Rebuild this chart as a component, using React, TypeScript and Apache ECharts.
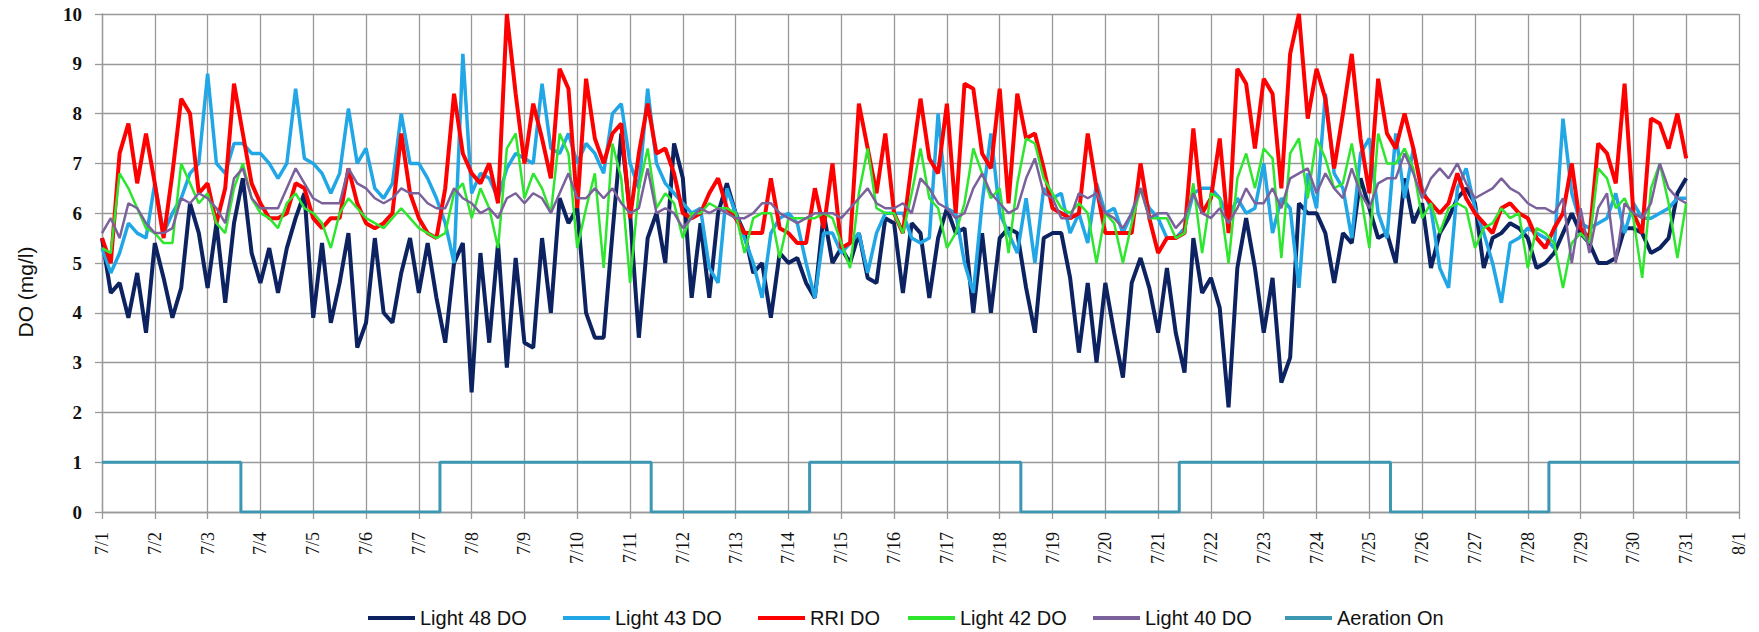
import { useEffect, useRef } from 'react'
import * as echarts from 'echarts'

// x axis: one tick per day, 7/1 .. 8/1
const dateLabels = [
  '7/1', '7/2', '7/3', '7/4', '7/5', '7/6', '7/7', '7/8', '7/9', '7/10', '7/11',
  '7/12', '7/13', '7/14', '7/15', '7/16', '7/17', '7/18', '7/19', '7/20', '7/21',
  '7/22', '7/23', '7/24', '7/25', '7/26', '7/27', '7/28', '7/29', '7/30', '7/31', '8/1',
]

// readings every 4 hours (6 per day), one row per day, from 7/1 00:00 to 7/31 00:00
const samplesPerDay = 6

const light48 = [
  5.5, 4.4, 4.6, 3.9, 4.8, 3.6,
  5.4, 4.7, 3.9, 4.5, 6.2, 5.6,
  4.5, 5.8, 4.2, 5.8, 6.7, 5.2,
  4.6, 5.3, 4.4, 5.3, 5.9, 6.4,
  3.9, 5.4, 3.8, 4.6, 5.6, 3.3,
  3.8, 5.5, 4.0, 3.8, 4.8, 5.5,
  4.4, 5.4, 4.3, 3.4, 5.0, 5.4,
  2.4, 5.2, 3.4, 5.4, 2.9, 5.1,
  3.4, 3.3, 5.5, 4.0, 6.3, 5.8,
  6.1, 4.0, 3.5, 3.5, 5.6, 7.6,
  6.0, 3.5, 5.5, 6.0, 5.0, 7.4,
  6.7, 4.3, 5.8, 4.3, 6.0, 6.6,
  6.0, 5.6, 4.8, 5.0, 3.9, 5.2,
  5.0, 5.1, 4.6, 4.3, 6.0, 5.0,
  5.3, 5.0, 5.6, 4.7, 4.6, 5.9,
  5.8, 4.4, 5.8, 5.6, 4.3, 5.5,
  6.1, 5.6, 5.7, 4.0, 5.6, 4.0,
  5.5, 5.7, 5.6, 4.5, 3.6, 5.5,
  5.6, 5.6, 4.7, 3.2, 4.6, 3.0,
  4.6, 3.6, 2.7, 4.6, 5.1, 4.5,
  3.6, 4.9, 3.6, 2.8, 5.5, 4.4,
  4.7, 4.1, 2.1, 4.9, 5.9, 4.9,
  3.6, 4.7, 2.6, 3.1, 6.2, 6.0,
  6.0, 5.6, 4.6, 5.6, 5.4, 6.7,
  6.1, 5.5, 5.6, 5.0, 6.7, 5.8,
  6.2, 4.9, 5.6, 5.9, 6.3, 6.5,
  6.2, 4.9, 5.5, 5.6, 5.8, 5.7,
  5.5, 4.9, 5.0, 5.2, 5.6, 6.0,
  5.6, 5.4, 5.0, 5.0, 5.1, 5.7,
  5.7, 5.6, 5.2, 5.3, 5.5, 6.4,
  6.7,
]

const light43 = [
  5.3, 4.8, 5.2, 5.8, 5.6, 5.5,
  6.6, 5.6, 6.0, 6.3, 6.8, 7.0,
  8.8, 7.0, 6.8, 7.4, 7.4, 7.2,
  7.2, 7.0, 6.7, 7.0, 8.5, 7.1,
  7.0, 6.8, 6.4, 6.8, 8.1, 7.0,
  7.3, 6.5, 6.3, 6.6, 8.0, 7.0,
  7.0, 6.7, 6.3, 5.8, 5.0, 9.2,
  6.4, 6.8, 6.7, 6.3, 6.9, 7.2,
  7.1, 7.0, 8.6, 7.3, 7.2, 7.6,
  7.0, 7.4, 7.2, 6.8, 8.0, 8.2,
  7.0, 6.5, 8.5, 7.0, 6.6, 6.4,
  6.2, 6.0, 6.1, 4.9, 4.6, 6.5,
  6.0, 5.5, 5.0, 4.3, 5.6, 5.9,
  6.0, 5.8, 5.0, 4.3, 5.6, 5.6,
  5.2, 5.4, 5.6, 4.8, 5.6, 6.0,
  6.0, 6.0, 5.5, 5.4, 5.5, 8.0,
  6.1, 6.0, 5.0, 4.4, 6.2, 7.6,
  6.0, 5.6, 5.2, 6.3, 5.0, 6.5,
  6.3, 6.4, 5.6, 6.0, 5.4, 6.6,
  6.0, 6.1, 5.6, 6.0, 6.5, 6.1,
  5.9, 5.5, 5.5, 5.7, 6.4, 6.5,
  6.5, 6.3, 5.9, 6.3, 6.0, 6.1,
  7.0, 5.6, 6.3, 6.1, 4.5, 6.8,
  6.1, 8.4, 6.8, 6.5, 5.5, 7.2,
  7.5, 6.0, 5.5, 7.6, 6.3, 7.3,
  6.5, 6.1, 4.9, 4.5, 6.5, 6.9,
  6.1, 5.6, 5.0, 4.2, 5.4, 5.5,
  5.7, 5.6, 5.5, 5.3, 7.9, 6.4,
  5.8, 5.7, 5.8, 5.9, 6.4, 5.6,
  6.2, 5.9, 5.9, 6.0, 6.1, 6.3,
  6.3,
]

const rri = [
  5.5, 5.0, 7.2, 7.8, 6.6, 7.6,
  6.6, 5.5, 6.8, 8.3, 8.0, 6.4,
  6.6, 5.8, 6.5, 8.6, 7.6, 6.6,
  6.2, 5.9, 5.9, 6.0, 6.6, 6.5,
  5.9, 5.7, 5.9, 5.9, 6.9, 6.2,
  5.8, 5.7, 5.8, 6.0, 7.6, 6.4,
  5.9, 5.6, 5.5, 6.5, 8.4, 7.2,
  6.8, 6.6, 7.0, 6.2, 10.0, 8.4,
  7.0, 8.2, 7.5, 6.7, 8.9, 8.5,
  6.1, 8.7, 7.5, 7.0, 7.6, 7.8,
  5.9, 7.2, 8.2, 7.2, 7.3, 6.8,
  6.0, 5.9, 6.0, 6.4, 6.7, 6.1,
  5.9, 5.6, 5.6, 5.6, 6.7, 5.7,
  5.6, 5.4, 5.4, 6.5, 5.7, 7.0,
  5.3, 5.4, 8.2, 7.3, 6.4, 7.6,
  6.0, 5.6, 7.0, 8.3, 7.1, 6.8,
  8.2, 6.0, 8.6, 8.5, 7.2, 6.9,
  8.5, 6.2, 8.4, 7.5, 7.6, 6.9,
  6.1, 6.0, 5.9, 6.0, 7.6, 6.5,
  5.6, 5.6, 5.6, 5.6, 7.0, 5.9,
  5.2, 5.5, 5.5, 5.6, 7.7, 6.0,
  6.3, 7.5, 5.6, 8.9, 8.6, 7.3,
  8.7, 8.4, 6.5, 9.2, 10.0, 7.9,
  8.9, 8.3, 6.9, 8.0, 9.2, 7.5,
  6.4, 8.7, 7.6, 7.3, 8.0, 7.3,
  6.4, 6.2, 6.0, 6.2, 6.8, 6.3,
  6.0, 5.8, 5.6, 6.1, 6.2, 6.0,
  5.9, 5.5, 5.3, 5.7, 6.0, 7.0,
  5.7, 5.5, 7.4, 7.2, 6.6, 8.6,
  6.0, 5.6, 7.9, 7.8, 7.3, 8.0,
  7.1,
]

const light42 = [
  5.3, 5.2, 6.8, 6.5, 6.1, 5.7,
  5.6, 5.4, 5.4, 7.0, 6.6, 6.2,
  6.4, 5.8, 5.6, 6.5, 7.0, 6.3,
  6.0, 5.9, 5.7, 6.2, 6.4, 6.1,
  6.0, 5.8, 5.3, 6.0, 6.3, 6.1,
  5.9, 5.8, 5.7, 5.9, 6.1, 5.9,
  5.7, 5.6, 5.5, 5.6, 6.4, 6.6,
  5.9, 6.5, 6.1, 5.3, 7.3, 7.6,
  6.3, 6.8, 6.5, 6.0, 7.6, 7.2,
  5.3, 6.1, 6.8, 4.9, 7.4, 6.7,
  4.6, 6.5, 7.3, 6.1, 6.4, 6.2,
  5.5, 6.0, 6.0, 6.2, 6.1, 6.1,
  6.0, 5.2, 5.9, 6.0, 6.0, 5.1,
  5.9, 5.9, 5.9, 5.9, 6.0, 5.9,
  5.4, 4.9, 6.4, 7.3, 6.1, 6.0,
  6.0, 5.6, 6.4, 7.3, 6.3, 6.1,
  5.3, 5.6, 6.2, 7.3, 6.8, 6.3,
  6.5, 5.2, 6.6, 7.5, 7.4, 6.7,
  6.4, 6.1, 6.0, 6.2, 6.0, 5.0,
  6.0, 5.8, 5.0, 5.8, 6.5, 5.9,
  5.9, 5.9, 5.5, 5.6, 6.6, 5.2,
  6.4, 6.3, 5.0, 6.7, 7.2, 6.5,
  7.3, 7.1, 5.1, 7.2, 7.5, 6.3,
  7.5, 7.1, 6.5, 6.6, 7.4, 6.4,
  5.3, 7.6, 7.0, 7.0, 7.3, 6.9,
  5.9, 6.2, 5.6, 6.1, 6.2, 6.1,
  5.3, 5.7, 5.8, 6.1, 5.9, 6.0,
  4.9, 5.7, 5.6, 5.4, 4.5, 5.4,
  5.6, 5.4, 6.9, 6.7, 6.1, 6.3,
  5.9, 4.7, 6.5, 7.0, 6.2, 5.1,
  6.2,
]

const light40 = [
  5.6, 5.9, 5.5, 6.2, 6.1, 5.8,
  5.6, 5.6, 5.7, 6.3, 6.2, 6.4,
  6.3, 6.1, 5.8, 6.7, 6.9, 6.3,
  6.1, 6.1, 6.1, 6.5, 6.9, 6.6,
  6.3, 6.2, 6.2, 6.2, 6.9, 6.6,
  6.5, 6.3, 6.2, 6.3, 6.5, 6.4,
  6.4, 6.2, 6.1, 6.1, 6.5, 6.3,
  6.2, 6.0, 6.1, 5.9, 6.3, 6.4,
  6.2, 6.4, 6.3, 6.0, 6.4, 6.8,
  6.3, 6.3, 6.5, 6.3, 6.5, 6.2,
  6.0, 6.1, 6.9, 6.0, 6.1, 6.0,
  5.7, 5.9, 6.1, 6.0, 6.1, 6.0,
  5.9, 5.9, 6.0, 6.2, 6.2, 6.0,
  5.9, 5.8, 5.9, 6.0, 6.0, 6.0,
  5.9, 6.1, 6.3, 6.5, 6.2, 6.1,
  6.1, 6.2, 6.0, 6.7, 6.5, 6.2,
  6.1, 5.9, 6.0, 6.5, 6.8, 6.4,
  6.2, 6.0, 6.1, 6.7, 7.1, 6.4,
  6.3, 5.9, 5.9, 6.4, 6.3, 6.4,
  6.0, 5.9, 5.7, 6.0, 6.5, 5.9,
  6.0, 6.0, 5.7, 5.9, 6.4, 6.0,
  5.9, 6.1, 5.8, 6.1, 6.5, 6.2,
  6.2, 6.5, 6.1, 6.7, 6.8, 6.9,
  6.4, 6.8, 6.5, 6.3, 6.9, 6.4,
  6.1, 6.6, 6.7, 6.7, 7.2, 6.8,
  6.3, 6.7, 6.9, 6.7, 7.0, 6.6,
  6.3, 6.4, 6.5, 6.7, 6.5, 6.4,
  6.2, 6.1, 6.1, 6.0, 6.3, 5.0,
  6.1, 5.2, 6.1, 6.4, 5.0, 6.2,
  6.0, 5.9, 6.2, 7.0, 6.5, 6.3,
  6.2,
]

// aeration switches (day offset from 7/1) and the state from each switch on
const aerationDays = [0, 2.63, 6.4, 10.4, 13.4, 17.4, 20.4, 24.4, 27.4, 31]
const aerationState = [1, 0, 1, 0, 1, 0, 1, 0, 1, 1]

const seriesNames = ['Light 48 DO', 'Light 43 DO', 'RRI DO', 'Light 42 DO', 'Light 40 DO', 'Aeration On']
const seriesColors = ['#0d2361', '#22a7e6', '#ff0000', '#2ee62e', '#7b619c', '#3c97b3']
const legendLeft = [368, 563, 758, 908, 1093, 1285]

const toPoints = (values: number[]) => values.map((v, i) => [i / samplesPerDay, v])

export default function App() {
  const ref = useRef<HTMLDivElement | null>(null)

  useEffect(() => {
    if (!ref.current) return
    const chart = echarts.init(ref.current, undefined, { renderer: 'svg' })

    const doSeries = [light48, light43, rri, light42, light40]
    const widths = [4, 3.5, 4, 2.5, 2.5]

    chart.setOption({
      animation: false,
      backgroundColor: '#fff',
      grid: { left: 102, right: 20, top: 14, bottom: 120 },
      xAxis: {
        type: 'value',
        min: 0,
        max: 31,
        interval: 1,
        axisLine: { lineStyle: { color: '#999', width: 1.3 } },
        axisTick: { length: 7, lineStyle: { color: '#999', width: 1.3 } },
        splitLine: { lineStyle: { color: '#999', width: 1.3 } },
        axisLabel: {
          rotate: 90,
          margin: 20,
          color: '#111',
          fontFamily: "'Liberation Serif', serif",
          fontSize: 18,
          formatter: (v: number) => dateLabels[v] ?? '',
        },
      },
      yAxis: {
        type: 'value',
        min: 0,
        max: 10,
        interval: 1,
        axisLine: { show: true, lineStyle: { color: '#999', width: 1.3 } },
        axisTick: { show: true, length: 7, lineStyle: { color: '#999', width: 1.3 } },
        splitLine: { lineStyle: { color: '#999', width: 1.3 } },
        axisLabel: {
          margin: 20,
          color: '#111',
          fontFamily: "'Liberation Serif', serif",
          fontWeight: 'bold',
          fontSize: 19,
        },
      },
      // one legend per item so each sits where the reference puts it
      legend: seriesNames.map((name, i) => ({
        data: [name],
        left: legendLeft[i],
        top: 608,
        padding: 0,
        icon: 'rect',
        itemWidth: 47,
        itemHeight: 4,
        textStyle: {
          color: '#111',
          fontFamily: "'Liberation Sans', sans-serif",
          fontSize: 20,
        },
      })),
      graphic: [
        {
          type: 'text',
          x: 25,
          y: 292,
          rotation: Math.PI / 2,
          style: {
            text: 'DO (mg/l)',
            fill: '#111',
            fontFamily: "'Liberation Sans', sans-serif",
            fontSize: 21,
            align: 'center',
            verticalAlign: 'middle',
          },
        },
      ],
      series: [
        ...doSeries.map((values, i) => ({
          name: seriesNames[i],
          type: 'line',
          data: toPoints(values),
          symbol: 'none',
          showSymbol: false,
          lineStyle: { color: seriesColors[i], width: widths[i] },
          itemStyle: { color: seriesColors[i] },
        })),
        {
          name: seriesNames[5],
          type: 'line',
          step: 'end',
          data: aerationDays.map((d, i) => [d, aerationState[i]]),
          symbol: 'none',
          showSymbol: false,
          lineStyle: { color: seriesColors[5], width: 3 },
          itemStyle: { color: seriesColors[5] },
        },
      ],
    })

    return () => {
      chart.dispose()
    }
  }, [])

  return (
    <div
      ref={ref}
      style={{ position: 'fixed', left: 0, top: 0, width: 1759, height: 632, background: '#fff' }}
    />
  )
}
